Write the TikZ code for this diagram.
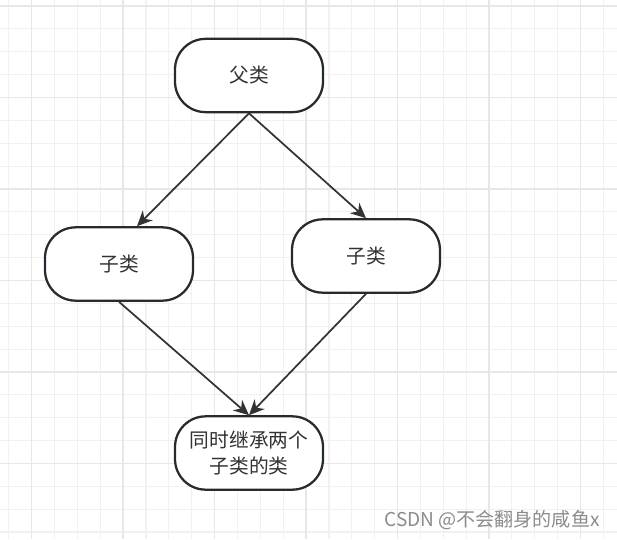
\documentclass[tikz,border=0pt]{standalone}
\usepackage{fontspec}
\setmainfont{Noto Sans CJK SC}
\usetikzlibrary{arrows.meta,calc}
\definecolor{trait}{HTML}{262B30}
\definecolor{fleche}{HTML}{333333}
\definecolor{grille}{HTML}{F1F1F1}
\definecolor{grillef}{HTML}{E7E7E7}
\tikzset{
  bloc/.style={draw=trait,line width=1.7pt,rounded corners=23pt,fill=white,align=center,
    minimum width=111pt,minimum height=55pt,inner sep=2pt,text=black!80,
    font=\fontsize{14.8}{19.5}\selectfont},
  fl/.style={-{Stealth[length=11.5pt,width=10.5pt]},line width=1.3pt,draw=fleche},
  wm/.style={font=\fontsize{14.3}{16}\selectfont,text=black!45},
  fin/.style={grille,line width=0.8pt},
  fort/.style={grillef,line width=1.1pt},
}

\begin{document}
\begin{tikzpicture}[x=0.75pt,y=-0.75pt]
  \useasboundingbox (0,0) rectangle (617,539);
  \fill[white] (0,0) rectangle (617,539);
  \foreach \i in {0,...,26}{
    \draw[fin] ({8.8+22.87*\i},0) -- ++(0,539);}
  \foreach \j in {0,...,23}{
    \draw[fin] (0,{6+22.87*\j}) -- ++(617,0);}
  \foreach \i in {0,...,6}{
    \draw[fort] ({31.7+91.5*\i},0) -- ++(0,539);}
  \foreach \j in {0,...,5}{
    \draw[fort] (0,{6+91.5*\j}) -- ++(617,0);}
  \node[bloc] (pere) at (249,75.5) {父类};
  \node[bloc] (filsg) at (119,264) {子类};
  \node[bloc] (filsd) at (366,256) {子类};
  \node[bloc] (enfant) at (249,453) {同时继承两个\\子类的类};
  \node[wm] (marque) at (492,520) {CSDN @不会翻身的咸鱼x};
  \coordinate (entreeg) at ($(filsg.north)+(18,0)$);
  \draw[fl] (pere.south) -- (entreeg);
  \draw[fl] (pere.south) -- (filsd.north);
  \draw[fl] (filsg.south) -- (enfant.north);
  \draw[fl] (filsd.south) -- (enfant.north);
\end{tikzpicture}
\end{document}
